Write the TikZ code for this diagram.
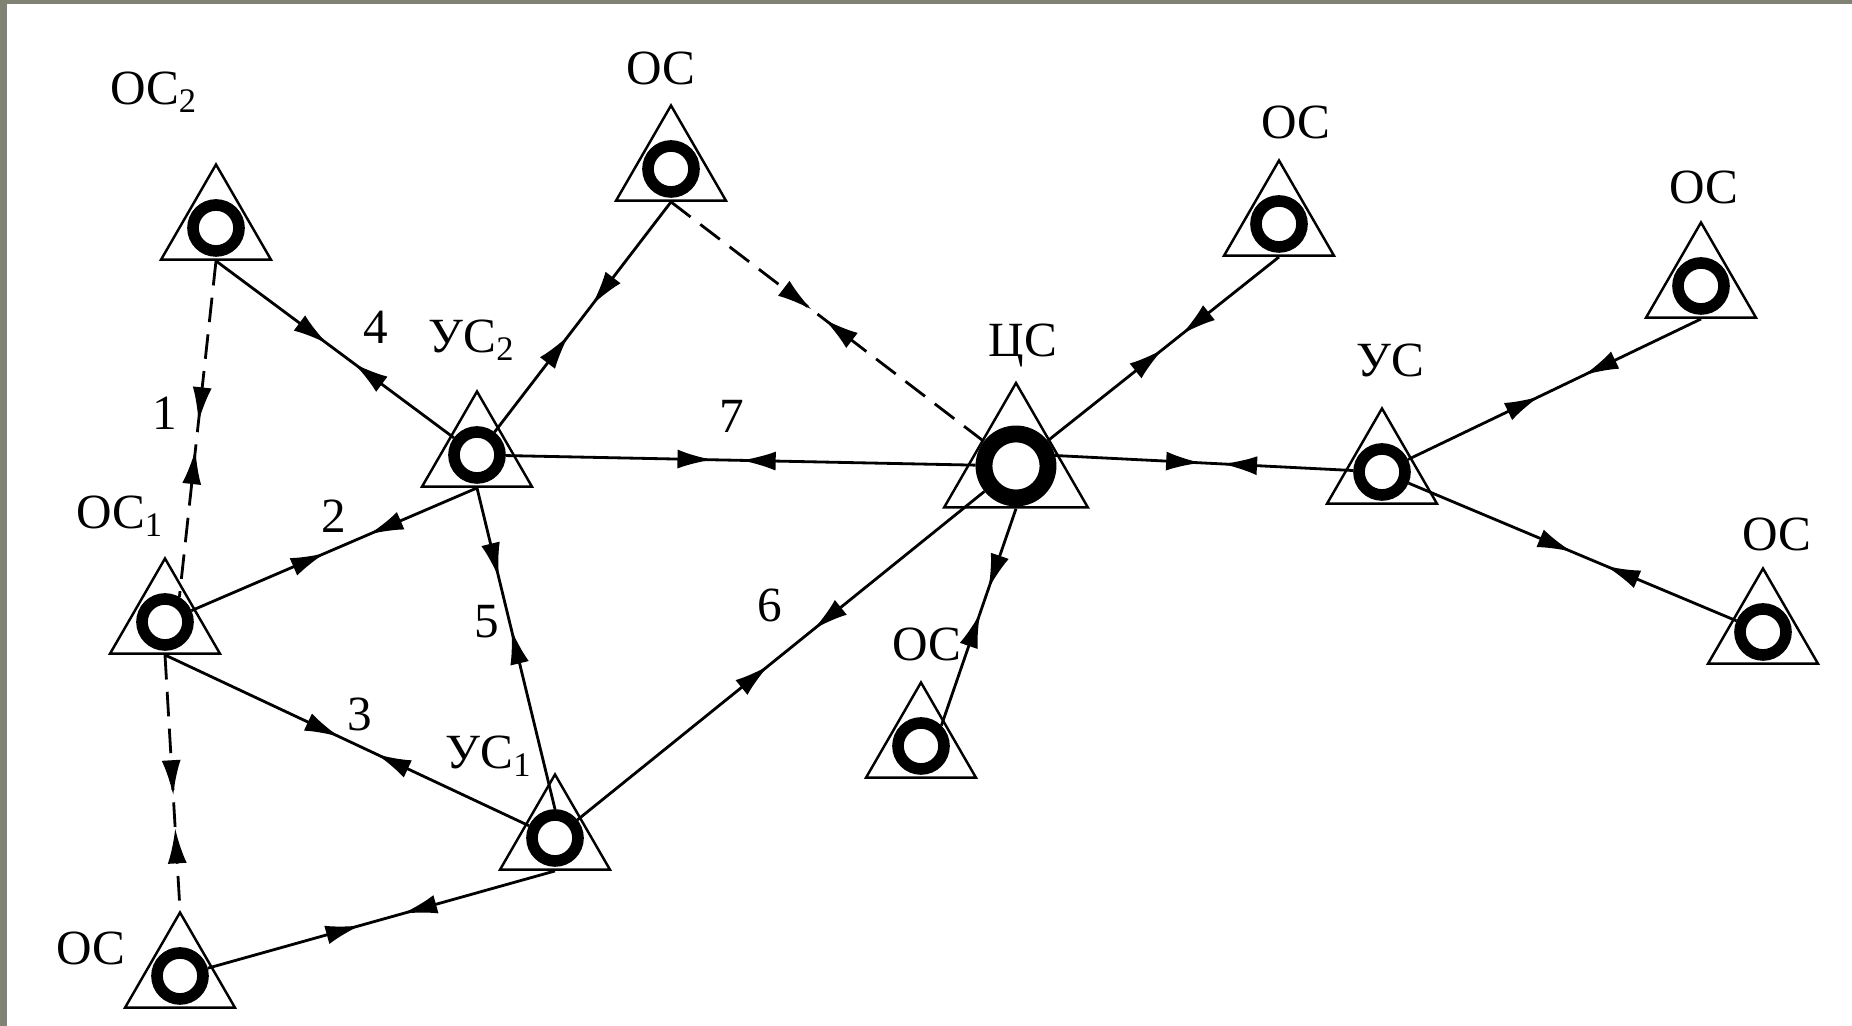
\documentclass[tikz,border=0pt]{standalone}
\usepackage{fontspec}
\setmainfont{Liberation Serif}
\usetikzlibrary{shapes.geometric,decorations.markings,arrows.meta}
\definecolor{framegray}{RGB}{128,131,116}
\begin{document}
\begin{tikzpicture}[line width=0.8pt,
  tri/.style={regular polygon,regular polygon sides=3,draw,line width=0.7pt,minimum size=1.27cm,inner sep=0pt},
  ring/.style={circle,draw,line width=3.3pt,fill=white,minimum size=0.46cm,inner sep=0pt},
  lbl/.style={font=\fontsize{14}{16}\selectfont,inner sep=0pt},
  duplex/.style 2 args={postaction={decorate},decoration={markings,
    mark=at position #1 with {\arrow{Latex[length=3.5mm,width=1.9mm]}},
    mark=at position #2 with {\arrowreversed{Latex[length=3.5mm,width=1.9mm]}}}},
  dsh/.style={dash pattern=on 7pt off 3.5pt}]
\fill[framegray](0,0) rectangle (18.52,10.26);
\fill[white](0.07,0) rectangle (18.52,10.22);
\useasboundingbox(0,0) rectangle (18.52,10.26);
\foreach \n/\x/\y in {os2/2.16/7.98,os0/6.71/8.57,us2/4.77/5.71,os1/1.65/4.04,us1/5.55/1.88,os6/1.80/0.50,os7/9.21/2.80,os3/12.79/8.02,us/13.82/5.54,os4/17.01/7.40,os5/17.63/3.94}{
  \node[tri](t\n) at (\x,\y){};
  \node[ring](\n) at (\x,\y){};
}
\node[tri,minimum size=1.66cm](tcs) at (10.16,5.60){};
\node[ring,minimum size=0.64cm,line width=4.8pt](cs) at (10.16,5.60){};
\node[lbl](l-os2) at (1.54,9.34){ОС\textsubscript{2}};
\node[lbl](l-os0) at (6.61,9.58){ОС};
\node[lbl](l-us2) at (4.72,6.86){УС\textsubscript{2}};
\node[lbl](l-os1) at (1.20,5.10){ОС\textsubscript{1}};
\node[lbl](l-us1) at (4.89,2.70){УС\textsubscript{1}};
\node[lbl](l-os6) at (0.91,0.78){ОС};
\node[lbl](l-cs) at (10.23,6.81){ЦС};
\node[lbl](l-os7) at (9.27,3.82){ОС};
\node[lbl](l-os3) at (12.96,9.04){ОС};
\node[lbl](l-us) at (13.90,6.66){УС};
\node[lbl](l-os4) at (17.04,8.39){ОС};
\node[lbl](l-os5) at (17.77,4.92){ОС};
\node[lbl](n1) at (1.65,6.13){1};
\node[lbl](n2) at (3.34,5.10){2};
\node[lbl](n3) at (3.60,3.12){3};
\node[lbl](n4) at (3.76,6.99){4};
\node[lbl](n5) at (4.87,4.04){5};
\node[lbl](n6) at (7.70,4.21){6};
\node[lbl](n7) at (7.32,6.10){7};
\draw[dsh,duplex={0.48}{0.56}](tos2.side 2)--(os1.60);
\draw[duplex={0.47}{0.62}](os1)--(tus2.side 2);
\draw[duplex={0.48}{0.58}](tos1.side 2)--(us1);
\draw[duplex={0.47}{0.58}](tos2.side 2)--(us2);
\draw[duplex={0.28}{0.44}](tus2.side 2)--(us1.north);
\draw[duplex={0.47}{0.58}](us1)--(cs);
\draw[duplex={0.44}{0.5}](us2)--(cs);
\draw[duplex={0.45}{0.58}](tos0.side 2)--(us2);
\draw[dsh,duplex={0.45}{0.49}](tos0.side 2)--(cs);
\draw[duplex={0.5}{0.58}](cs)--(tos3.side 2);
\draw[duplex={0.37}{0.48}](tcs.side 2)--(os7.45);
\draw[duplex={0.49}{0.56}](cs.15)--(us);
\draw[duplex={0.45}{0.6}](us)--(tos4.side 2);
\draw[duplex={0.5}{0.6}](us)--(os5);
\draw[duplex={0.44}{0.56}](tus1.side 2)--(os6);
\draw[dsh,duplex={0.55}{0.68}](tos1.side 2)--(tos6.corner 1);
\end{tikzpicture}
\end{document}
